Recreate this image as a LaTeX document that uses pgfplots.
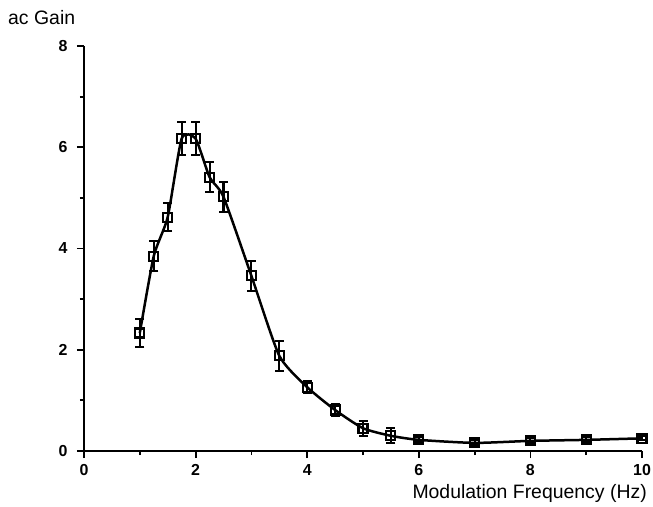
\documentclass[border=0pt]{standalone}
\usepackage{fontspec}
\setmainfont{Liberation Sans}
\usepackage{pgfplots}
\pgfplotsset{compat=1.18}
\usepackage{pgfplotstable}
\pgfplotstableread{
x y e
1 2.33 0.28
1.25 3.85 0.30
1.5 4.62 0.28
1.75 6.17 0.33
2 6.17 0.33
2.25 5.41 0.30
2.5 5.02 0.30
3 3.46 0.30
3.5 1.88 0.30
4 1.26 0.12
4.5 0.81 0.12
5 0.45 0.15
5.5 0.30 0.15
6 0.22 0.05
7 0.16 0.05
8 0.20 0.05
9 0.22 0.05
10 0.25 0.04
}\gain
\begin{document}
\begin{tikzpicture}
\begin{axis}[
  at={(0,0)}, anchor=south west,
  scale only axis, width=558bp, height=405bp,
  xmin=0, xmax=10, ymin=0, ymax=8,
  axis lines=left,
  axis line style={-, line width=2.8bp},
  tick align=outside,
  xtick={0,2,...,10}, ytick={0,2,...,8},
  minor xtick={1,3,5,7,9}, minor ytick={1,3,5,7},
  major tick length=7bp, minor tick length=4bp,
  tick style={black, line width=1.8bp},
  ticklabel style={font=\fontsize{16}{16}\selectfont\bfseries},
  /pgf/number format/assume math mode=true,
  xticklabel style={yshift=-3bp},
  yticklabel style={xshift=-6bp},
  clip=false,
]
\addplot[black, line width=2.5bp, smooth, tension=0.35,
  mark=square, mark size=4.5bp, mark options={solid, line width=2.1bp},
  error bars/.cd, y dir=both, y explicit,
  error bar style={line width=2.1bp},
  error mark options={rotate=90, mark size=4.5bp, line width=2.1bp}]
  table[x=x, y=y, y error=e] {\gain};
\end{axis}
\node[anchor=base east, font=\fontsize{19.5}{19.5}\selectfont, inner sep=0pt] at (563bp,-47bp) {Modulation Frequency (Hz)};
\node[anchor=base west, font=\fontsize{19.5}{19.5}\selectfont, inner sep=0pt] at (-76bp,426bp) {ac Gain};
\pgfresetboundingbox
\path[use as bounding box] (-84bp,-56bp) rectangle (569bp,451bp);
\end{tikzpicture}
\end{document}
